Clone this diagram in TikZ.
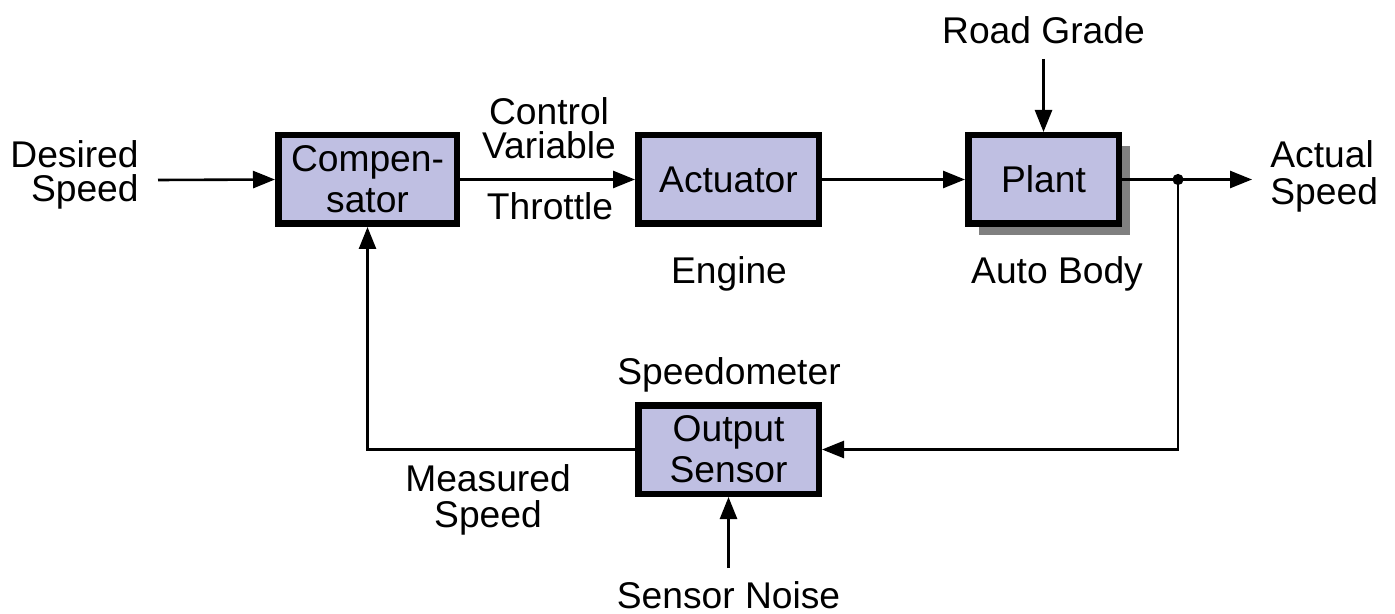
\documentclass[tikz,border=0pt]{standalone}
\usepackage{fontspec}
\setmainfont{Liberation Sans}
\usetikzlibrary{arrows.meta,shadows}
\definecolor{boxfill}{RGB}{191,191,226}
\definecolor{shadowgray}{RGB}{128,128,128}
\tikzset{
  blk/.style={draw=black, line width=3.25pt, fill=boxfill, inner sep=0pt, align=center,
    font=\fontsize{18.6}{20.5}\selectfont},
  lbl/.style={inner sep=0pt, font=\fontsize{18.6}{20}\selectfont},
  conn/.style={line width=1.3pt, -{Triangle[length=11pt,width=8.5pt]}},
  wire/.style={line width=1.3pt},
}
\begin{document}
\begin{tikzpicture}[x=0.5pt,y=-0.5pt]
\useasboundingbox (0,0) rectangle (1395,614);

% blocks
\node[blk, minimum width=89.25pt, minimum height=44.25pt] (comp) at (367.5,179.5) {Compen-\\sator};
\node[blk, minimum width=90.25pt, minimum height=44.25pt] (act) at (728.5,179.5) {Actuator};
\node[blk, minimum width=75.25pt, minimum height=44.25pt,
      drop shadow={shadow xshift=5.5pt, shadow yshift=-5.5pt, fill=shadowgray, opacity=1}] (plant) at (1043.5,179.5) {Plant};
\node[blk, minimum width=90.25pt, minimum height=44.25pt] (sens) at (728.5,449.5) {Output\\Sensor};

% labels
\node[lbl, anchor=base east] (des1) at (139,168) {Desired};
\node[lbl, anchor=base east] (des2) at (139,202) {Speed};
\node[lbl, anchor=base west] (act1) at (1270,168) {Actual};
\node[lbl, anchor=base west] (act2) at (1270,205) {Speed};
\node[lbl, anchor=base] (cv1) at (549,125) {Control};
\node[lbl, anchor=base] (cv2) at (549,159) {Variable};
\node[lbl, anchor=base] (thr) at (550,220) {Throttle};
\node[lbl, anchor=base] (eng) at (729,284) {Engine};
\node[lbl, anchor=base] (body) at (1057,284) {Auto Body};
\node[lbl, anchor=base] (spdm) at (729,384) {Speedometer};
\node[lbl, anchor=base] (meas1) at (488,491) {Measured};
\node[lbl, anchor=base] (meas2) at (488,527) {Speed};
\node[lbl, anchor=base] (road) at (1043.5,44) {Road Grade};
\node[lbl, anchor=base] (noise) at (728.5,608) {Sensor Noise};

% free ends
\coordinate (inS) at (158,180);
\coordinate (outE) at (1252,179.5);
\coordinate (split) at (1178,179.5);
\coordinate (roadS) at (1043.5,59);
\coordinate (noiseS) at (728.5,568);

% connectors
\draw[conn] (inS) -- (comp.west);
\draw[conn] (comp.east) -- (act.west);
\draw[conn] (act.east) -- (plant.west);
\draw[conn] (plant.east) -- (outE);
\draw[conn] (split) |- (sens.east);
\draw[conn] (sens.west) -| (comp.south);
\draw[conn] (roadS) -- (plant.north);
\draw[conn] (noiseS) -- (sens.south);
\fill (split) circle (2.8pt);
\end{tikzpicture}
\end{document}
